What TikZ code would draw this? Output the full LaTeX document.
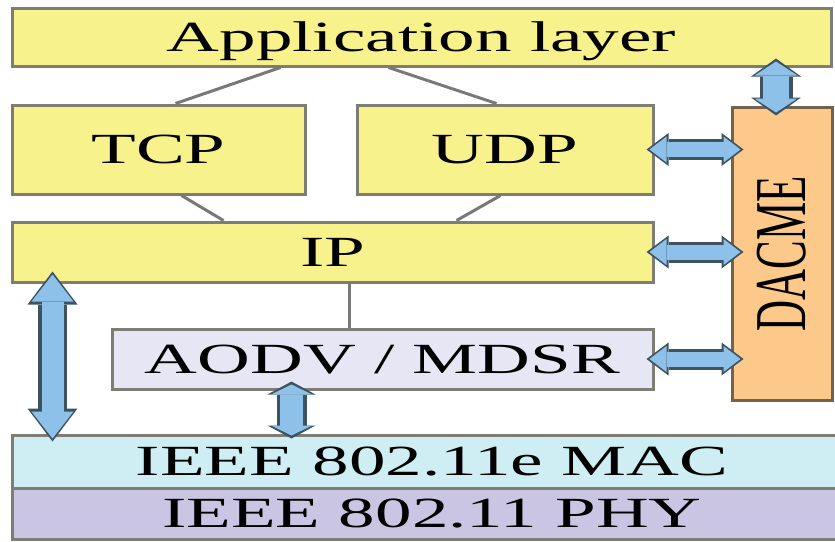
\documentclass[tikz,border=0pt]{standalone}
\usepackage{fontspec}
\setmainfont{Liberation Serif}
\usepackage{graphicx}
\usetikzlibrary{arrows.meta,calc}

\definecolor{layeryellow}{RGB}{248,242,140}
\definecolor{dacmeorange}{RGB}{253,201,139}
\definecolor{aodvlilac}{RGB}{230,230,244}
\definecolor{maccyan}{RGB}{206,238,244}
\definecolor{phylilac}{RGB}{201,197,227}
\definecolor{arrowblue}{RGB}{141,193,234}
\definecolor{arrowdark}{RGB}{62,83,96}
\definecolor{boxedge}{RGB}{125,125,115}
\definecolor{dacmeedge}{RGB}{115,98,78}
\definecolor{linkgray}{RGB}{120,120,120}

\newcommand{\wide}[1]{\scalebox{1.7}[1]{#1}}

\begin{document}
\begin{tikzpicture}[x=0.5pt, y=-0.5pt,
  layer/.style={draw=boxedge, line width=1.5pt, inner sep=0pt, font=\fontsize{21.5}{24}\selectfont},
  hlayer/.style={layer, text height=14.2pt, text depth=0pt},
  link/.style={draw=linkgray, line width=1.5pt},
  bout/.style n args={3}{draw=arrowdark, line width=#1,
    {Triangle[length=#3,width=#2,line width=0pt]}-{Triangle[length=#3,width=#2,line width=0pt]}},
  bin/.style n args={3}{draw=arrowblue, line width=#1,
    {Triangle[length=#3,width=#2,line width=0pt]}-{Triangle[length=#3,width=#2,line width=0pt]},
    shorten <=1.5pt, shorten >=1.5pt}]
  \useasboundingbox (0,0) rectangle (835,541);
  \clip (0,0) rectangle (835,541);

  % protocol layers
  \node[hlayer, fill=layeryellow, minimum width=409.5pt, minimum height=29pt] (app) at (421.5,37) {\wide{Application layer}};
  \node[hlayer, fill=layeryellow, minimum width=146.5pt, minimum height=44.5pt] (tcp) at (158.5,149.5) {\wide{TCP}};
  \node[hlayer, fill=layeryellow, minimum width=148pt, minimum height=44.5pt] (udp) at (505,149.5) {\wide{UDP}};
  \node[hlayer, fill=layeryellow, minimum width=320.5pt, minimum height=30pt] (ip) at (332.5,252) {\wide{IP}};
  \node[hlayer, fill=aodvlilac, minimum width=270.5pt, minimum height=30pt] (aodv) at (382.5,359) {\wide{AODV / MDSR}};
  \node[hlayer, fill=maccyan, minimum width=420pt, minimum height=26.5pt] (mac) at (432,461.5) {\wide{IEEE 802.11e MAC}};
  \node[hlayer, fill=phylilac, minimum width=420pt, minimum height=25.5pt] (phy) at (432,513.5) {\wide{IEEE 802.11 PHY}};
  \node[layer, draw=dacmeedge, fill=dacmeorange, minimum width=50pt, minimum height=146.5pt] (dacme) at (782,253.5) {\wide{\rotatebox{90}{DACME}}};

  % thin links
  \draw[link] ([xshift=135pt]app.south west) -- ([xshift=82.5pt]tcp.north west);
  \draw[link] ([xshift=189pt]app.south west) -- ([xshift=70.5pt]udp.north west);
  \draw[link] ([xshift=85.5pt]tcp.south west) -- ([xshift=106.5pt]ip.north west);
  \draw[link] ([xshift=72.5pt]udp.south west) -- ([xshift=223pt]ip.north west);
  \draw[link] ([xshift=8.25pt]ip.south) -- ([xshift=8.25pt]ip.south |- aodv.north);

  % block arrows
  \draw[bout={16.5pt}{25pt}{9pt}] ([xshift=-3pt,yshift=4.5pt]app.south -| dacme.north) -- ([xshift=-3pt,yshift=-5pt]dacme.north);
  \draw[bin={13pt}{21.5pt}{7pt}] ([xshift=-3pt,yshift=4.5pt]app.south -| dacme.north) -- ([xshift=-3pt,yshift=-5pt]dacme.north);
  \foreach \n in {udp,ip,aodv} {
    \draw[bout={10.5pt}{16.5pt}{11pt}] ([xshift=-4pt]\n.east) -- ([xshift=6.5pt]\n.east -| dacme.west);
    \draw[bin={7.5pt}{13pt}{8.5pt}] ([xshift=-4pt]\n.east) -- ([xshift=6.5pt]\n.east -| dacme.west);
  }
  \draw[bout={14.5pt}{25pt}{16.5pt}] ([xshift=21pt,yshift=6pt]ip.south west) -- ([xshift=21pt,yshift=-4pt]ip.south west |- mac.north);
  \draw[bin={11pt}{21pt}{13.5pt}] ([xshift=21pt,yshift=6pt]ip.south west) -- ([xshift=21pt,yshift=-4pt]ip.south west |- mac.north);
  \draw[bout={15pt}{24pt}{6.5pt}] ([xshift=90.5pt,yshift=4.5pt]aodv.south west) -- ([xshift=90.5pt,yshift=-2.5pt]aodv.south west |- mac.north);
  \draw[bin={11.5pt}{20.5pt}{5pt}] ([xshift=90.5pt,yshift=4.5pt]aodv.south west) -- ([xshift=90.5pt,yshift=-2.5pt]aodv.south west |- mac.north);
\end{tikzpicture}
\end{document}
